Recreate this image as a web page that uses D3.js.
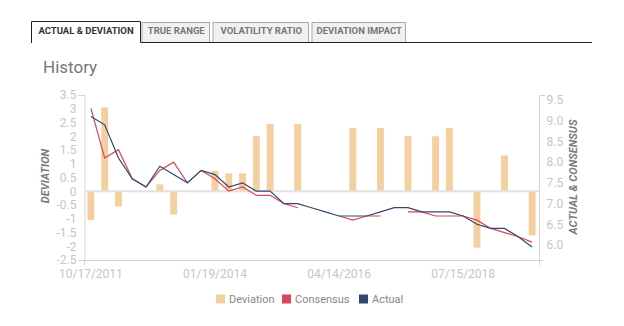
<!DOCTYPE html>
<html>
<head>
<meta charset="utf-8">
<script src="https://cdn.jsdelivr.net/npm/d3@7"></script>
<style>
  body { margin: 0; background: #fff; }
  svg { display: block; font-family: Roboto, "Noto Sans", sans-serif; }
</style>
</head>
<body>
<div id="chart"></div>
<script>
// release dates (quarterly)
const categories = [
  "10/17/2011", "01/18/2012", "04/17/2012", "07/17/2012", "10/16/2012",
  "01/17/2013", "04/16/2013", "07/16/2013", "10/15/2013", "01/19/2014",
  "04/15/2014", "07/15/2014", "10/14/2014", "01/15/2015", "04/14/2015",
  "07/14/2015", "10/13/2015", "01/14/2016", "04/14/2016", "07/13/2016",
  "10/12/2016", "01/12/2017", "04/12/2017", "07/12/2017", "10/11/2017",
  "01/11/2018", "04/12/2018", "07/15/2018", "10/11/2018", "01/10/2019",
  "04/11/2019", "07/11/2019", "10/10/2019"
];
const deviation = [
  -1.05, 3.05, -0.55, 0, 0, 0.25, -0.85, 0, 0, 0.75,
  0.65, 0.65, 2.0, 2.45, 0, 2.45, 0, 0, 0, 2.3,
  0, 2.3, 0, 2.0, 0, 2.0, 2.3, 0, -2.05, 0,
  1.3, 0, -1.6
];
const consensus = [
  9.3, 8.1, 8.3, 7.6, 7.4, 7.8, 8.0, 7.5, 7.8, 7.6,
  7.3, 7.4, 7.2, 7.2, 7.0, 6.9, null, null, 6.7, 6.6,
  6.7, 6.7, null, 6.8, 6.8, 6.7, 6.7, 6.7, 6.6, 6.4,
  6.3, 6.2, 6.07
];
const actual = [
  9.1, 8.9, 8.1, 7.6, 7.4, 7.9, 7.7, 7.5, 7.8, 7.7,
  7.4, 7.5, 7.3, 7.3, 7.0, 7.0, 6.9, 6.8, 6.7, 6.7,
  6.7, 6.8, 6.9, 6.9, 6.8, 6.8, 6.8, 6.7, 6.5, 6.4,
  6.4, 6.2, 5.95
];
const xTickLabels = ["10/17/2011", "01/19/2014", "04/14/2016", "07/15/2018"];
const leftTicks = [3.5, 3, 2.5, 2, 1.5, 1, 0.5, 0, -0.5, -1, -1.5, -2, -2.5];
const rightTicks = [9.5, 9.0, 8.5, 8.0, 7.5, 7.0, 6.5, 6.0];
const tabs = ["ACTUAL & DEVIATION", "TRUE RANGE", "VOLATILITY RATIO", "DEVIATION IMPACT"];
const legendItems = ["Deviation", "Consensus", "Actual"];

const width = 624, height = 326;
const colors = { dev: "#f4cf9f", cons: "#d9475b", act: "#2d4a72" };
const legendColors = ["#f4cf9f", "#d6475a", "#2e4870"];

const svg = d3.select("#chart").append("svg")
  .attr("width", width)
  .attr("height", height);

// tabs
const tabX = [31, 141.5, 212.5, 311.5];
const tabW = [109, 68.5, 96.5, 94.5];
tabs.forEach((t, i) => {
  const active = i === 0;
  const g = svg.append("g");
  if (active) {
    g.append("rect").attr("x", tabX[i] + 0.5).attr("y", 21.5)
      .attr("width", tabW[i]).attr("height", 21.5).attr("fill", "#fff");
    g.append("path")
      .attr("d", `M${tabX[i] + 0.5},43 V21.5 H${tabX[i] + tabW[i] + 0.5} V42.5`)
      .attr("fill", "none").attr("stroke", "#222").attr("stroke-width", 1);
  } else {
    g.append("rect").attr("x", tabX[i] + 0.5).attr("y", 22.5)
      .attr("width", tabW[i] - 1).attr("height", 20)
      .attr("fill", "#f1f1f1").attr("stroke", "#aaa");
  }
  g.append("text")
    .attr("x", tabX[i] + tabW[i] / 2 + 0.5)
    .attr("y", 31)
    .attr("dy", "0.35em")
    .attr("text-anchor", "middle")
    .attr("font-size", "9.5px")
    .attr("font-weight", "bold")
    .attr("fill", active ? "#333" : "#777")
    .text(t);
});
svg.append("line")
  .attr("x1", 140.5).attr("x2", 592).attr("y1", 42.5).attr("y2", 42.5)
  .attr("stroke", "#222");

// title
svg.append("text")
  .attr("x", 43).attr("y", 73)
  .attr("font-size", "17px")
  .attr("fill", "#777")
  .text("History");

// scales
const plotLeft = 84, plotRight = 539, plotTop = 95, plotBottom = 260;

const x = d3.scaleBand()
  .domain(categories)
  .range([plotLeft, plotRight])
  .paddingInner(0.5)
  .paddingOuter(0.25);

const yL = d3.scaleLinear().domain([-2.5, 3.5]).range([plotBottom, plotTop]);
const yR = d3.scaleLinear().domain([6, 9.5]).range([245, 100]);

// frame lines
svg.append("line")
  .attr("x1", plotLeft - 5).attr("x2", plotRight + 4)
  .attr("y1", plotBottom + 0.5).attr("y2", plotBottom + 0.5)
  .attr("stroke", "#d4d4d4");

// left axis
const axL = svg.append("g")
  .attr("transform", `translate(${plotLeft + 0.5},0)`)
  .call(d3.axisLeft(yL).tickValues(leftTicks).tickFormat(d => String(d))
    .tickSizeInner(0).tickSizeOuter(6).tickPadding(8));
axL.select(".domain").attr("stroke", "#d4d4d4");
axL.selectAll("text").attr("fill", "#c6c6c6").attr("font-size", "12px")
  .attr("font-family", "Roboto, sans-serif");
svg.append("line")
  .attr("x1", plotLeft + 0.5).attr("x2", plotLeft + 0.5)
  .attr("y1", plotBottom).attr("y2", plotBottom + 5)
  .attr("stroke", "#d4d4d4");

// right axis
const axR = svg.append("g")
  .attr("transform", `translate(${plotRight + 0.5},0)`)
  .call(d3.axisRight(yR).tickValues(rightTicks).tickFormat(d3.format(".1f"))
    .tickSize(0).tickPadding(7));
axR.select(".domain").remove();
axR.selectAll("text").attr("fill", "#c6c6c6").attr("font-size", "12px")
  .attr("font-family", "Roboto, sans-serif");
svg.append("path")
  .attr("d", `M${plotRight + 6.5},${plotTop + 0.5} H${plotRight + 0.5} V${plotBottom + 5}`)
  .attr("fill", "none").attr("stroke", "#d4d4d4");

// bottom axis
const axB = svg.append("g")
  .attr("transform", `translate(0,${plotBottom})`)
  .call(d3.axisBottom(x).tickValues(xTickLabels).tickSize(0).tickPadding(9));
axB.select(".domain").remove();
axB.selectAll("text").attr("fill", "#c6c6c6").attr("font-size", "12px")
  .attr("font-family", "Roboto, sans-serif");

// axis titles
svg.append("text")
  .attr("transform", "translate(45,176) rotate(-90)")
  .attr("text-anchor", "middle")
  .attr("dy", "0.35em")
  .attr("font-size", "11px")
  .attr("font-weight", "bold")
  .attr("font-style", "italic")
  .attr("fill", "#7a7a7a")
  .text("DEVIATION");
svg.append("text")
  .attr("transform", "translate(573,177) rotate(-90)")
  .attr("text-anchor", "middle")
  .attr("dy", "0.35em")
  .attr("font-size", "11px")
  .attr("font-weight", "bold")
  .attr("font-style", "italic")
  .attr("fill", "#7a7a7a")
  .text("ACTUAL & CONSENSUS");

// deviation bars
svg.append("g")
  .selectAll("rect")
  .data(categories.map((c, i) => ({ c, v: deviation[i] })))
  .enter()
  .append("rect")
  .attr("x", d => x(d.c))
  .attr("width", x.bandwidth())
  .attr("y", d => yL(Math.max(0, d.v)))
  .attr("height", d => Math.abs(yL(d.v) - yL(0)))
  .attr("fill", colors.dev);

// zero line
svg.append("line")
  .attr("x1", plotLeft + 1).attr("x2", plotRight)
  .attr("y1", yL(0)).attr("y2", yL(0))
  .attr("stroke", "#e2e2e2").attr("stroke-width", 2);

// lines
const line = d3.line()
  .defined(d => d.v != null)
  .x(d => x(d.c) + x.bandwidth() / 2)
  .y(d => yR(d.v));

svg.append("path")
  .datum(categories.map((c, i) => ({ c, v: consensus[i] })))
  .attr("fill", "none")
  .attr("stroke", colors.cons)
  .attr("stroke-width", 1.2)
  .attr("d", line);

svg.append("path")
  .datum(categories.map((c, i) => ({ c, v: actual[i] })))
  .attr("fill", "none")
  .attr("stroke", colors.act)
  .attr("stroke-width", 1.2)
  .attr("d", line);

// legend
const legendX = [216, 282, 359];
const legend = svg.append("g");
legendItems.forEach((name, i) => {
  legend.append("rect")
    .attr("x", legendX[i]).attr("y", 294.5)
    .attr("width", 9).attr("height", 9)
    .attr("fill", legendColors[i]);
  legend.append("text")
    .attr("x", legendX[i] + 13).attr("y", 299)
    .attr("dy", "0.35em")
    .attr("font-size", "11px")
    .attr("fill", "#888")
    .text(name);
});
</script>
</body>
</html>
